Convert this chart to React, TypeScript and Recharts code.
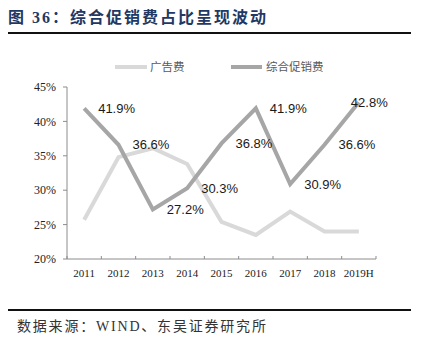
import React from 'react';
import { LineChart, Line, XAxis, YAxis, LabelList } from 'recharts';

const years = ['2011', '2012', '2013', '2014', '2015', '2016', '2017', '2018', '2019H'];
const adValues = [25.7, 34.8, 36.1, 33.8, 25.4, 23.5, 26.9, 24.0, 24.0];
const promoValues = [41.9, 36.6, 27.2, 30.3, 36.8, 41.9, 30.9, 36.6, 42.8];
const seriesNames = ['广告费', '综合促销费'];
const yTicks = [20, 25, 30, 35, 40, 45];
const titleText = '图 36：综合促销费占比呈现波动';
const sourceText = '数据来源：WIND、东吴证券研究所';

const data = years.map((y, i) => ({ i, year: y, ad: adValues[i], promo: promoValues[i] }));
const xTicks: number[] = [];
for (let k = 0; k <= years.length * 2; k++) xTicks.push(k / 2 - 0.5);

const LIGHT = '#d9d9d9';
const DARK = '#a6a6a6';
const AXIS = '#8c8c8c';

const XTick = (props: any) => {
  const { x, y, payload } = props;
  const v = payload.value;
  const axisY = y - 8;
  if (Math.abs(v - Math.round(v)) > 0.01) {
    return <line x1={x} x2={x} y1={axisY} y2={axisY - 3} stroke={AXIS} strokeWidth={1} />;
  }
  return (
    <text x={x} y={axisY + 14} textAnchor="middle" dominantBaseline="central"
      style={{ fontFamily: "'Liberation Serif', serif", fontSize: 11, fill: '#222' }}>
      {years[Math.round(v)]}
    </text>
  );
};

const PromoLabel = (props: any) => {
  const { x, y, value, index } = props;
  const last = index === years.length - 1;
  return (
    <text x={last ? x - 8 : x + 14} y={y} textAnchor="start" dominantBaseline="central"
      style={{ fontFamily: "'Liberation Sans', Arial, sans-serif", fontSize: 13, fill: '#1a1a1a' }}>
      {`${Number(value).toFixed(1)}%`}
    </text>
  );
};

export default function App() {
  return (
    <div style={{ position: 'fixed', left: 0, top: 0, width: 421, height: 342, background: '#fff', overflow: 'hidden' }}>
      <div style={{ position: 'absolute', left: 8, top: 7, fontFamily: "'Liberation Serif', 'Noto Sans CJK SC', serif", fontWeight: 'bold', fontSize: 16, letterSpacing: 2, color: '#1f3864', whiteSpace: 'nowrap', lineHeight: '22px' }}>
        {titleText}
      </div>
      <div style={{ position: 'absolute', left: 8, top: 32, width: 403, height: 2, background: '#111' }} />
      <div style={{ position: 'absolute', left: 8, top: 309, width: 403, height: 2, background: '#111' }} />
      <div style={{ position: 'absolute', left: 17, top: 317, fontFamily: "'Liberation Serif', 'Noto Sans CJK SC', serif", fontSize: 14, letterSpacing: 1.8, color: '#333', whiteSpace: 'nowrap', lineHeight: '20px' }}>
        {sourceText}
      </div>
      {/* legend */}
      <div style={{ position: 'absolute', left: 115, top: 65, width: 32, height: 4, background: LIGHT }} />
      <div style={{ position: 'absolute', left: 150, top: 58, fontFamily: "'Noto Sans CJK SC', sans-serif", fontSize: 11.5, color: '#595959', lineHeight: '17px', whiteSpace: 'nowrap' }}>{seriesNames[0]}</div>
      <div style={{ position: 'absolute', left: 231, top: 65, width: 31, height: 4, background: DARK }} />
      <div style={{ position: 'absolute', left: 266, top: 58, fontFamily: "'Noto Sans CJK SC', sans-serif", fontSize: 11.5, color: '#595959', lineHeight: '17px', whiteSpace: 'nowrap' }}>{seriesNames[1]}</div>
      <div style={{ position: 'absolute', left: 0, top: 0 }}>
        <LineChart width={421} height={342} data={data} margin={{ top: 87, right: 45, bottom: 53, left: 7 }}>
          <XAxis dataKey="i" type="number" domain={[-0.5, years.length - 0.5]} ticks={xTicks} interval={0}
            tick={<XTick />} tickLine={false} tickSize={6} tickMargin={2} height={30}
            axisLine={{ stroke: AXIS, strokeWidth: 1 }} allowDataOverflow />
          <YAxis domain={[20, 45]} ticks={yTicks} interval={0} width={60} tickSize={4} tickMargin={7}
            tickFormatter={(v: number) => `${v}%`}
            tick={{ fontFamily: "'Liberation Serif', serif", fontSize: 12, fill: '#222' }}
            axisLine={{ stroke: AXIS, strokeWidth: 1 }} tickLine={{ stroke: AXIS }} />
          <Line type="linear" dataKey="ad" name={seriesNames[0]} stroke={LIGHT} strokeWidth={4} dot={false} isAnimationActive={false} />
          <Line type="linear" dataKey="promo" name={seriesNames[1]} stroke={DARK} strokeWidth={4} dot={false} isAnimationActive={false}>
            <LabelList dataKey="promo" content={<PromoLabel />} />
          </Line>
        </LineChart>
      </div>
    </div>
  );
}
